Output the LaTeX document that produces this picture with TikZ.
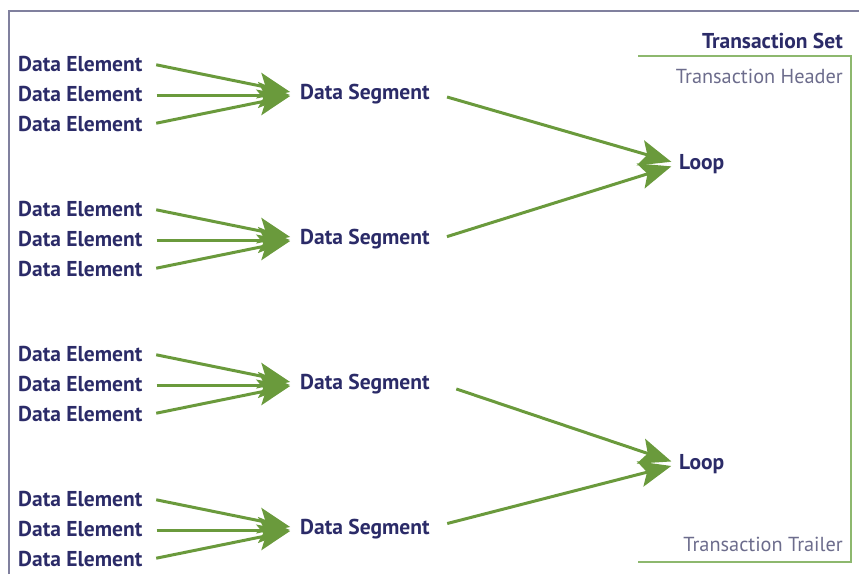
\documentclass[tikz,border=0pt]{standalone}
\usepackage{fontspec}
\setmainfont{PT Sans}
\usetikzlibrary{arrows.meta}
\definecolor{navy}{HTML}{2B2B68}
\definecolor{greyblue}{HTML}{6C6C8C}
\definecolor{arrowgreen}{HTML}{6A9A3C}
\definecolor{bracketgreen}{HTML}{8DB86E}
\definecolor{framegrey}{HTML}{80809E}
\tikzset{
  elem/.style={font=\fontsize{21.5}{21.5}\selectfont\bfseries, text=navy, inner sep=0pt, anchor=west},
  seg/.style={font=\fontsize{21.5}{21.5}\selectfont\bfseries, text=navy, inner sep=0pt, anchor=west},
  thin/.style={font=\fontsize{20.3}{20.3}\selectfont, text=greyblue, inner sep=0pt, anchor=east},
  flow/.style={draw=arrowgreen, line width=3pt, -{Stealth[length=32pt, width=26pt, inset=7pt]}},
}
\begin{document}
\begin{tikzpicture}[x=1pt,y=-1pt]
\useasboundingbox (0,0) rectangle (859,574);
% outer frame
\draw[framegrey, line width=2pt] (9,574) -- (9,11) -- (859,11);
% transaction set bracket
\draw[bracketgreen, line width=2pt] (638,56) -- (851,56) -- (851,562) -- (638,562);
\node[font=\fontsize{21.5}{21.5}\selectfont\bfseries, text=navy, inner sep=0pt, anchor=east] (tset) at (843,41) {Transaction Set};
\node[thin] (thead) at (843,76) {Transaction Header};
\node[thin] (ttrail) at (843,544) {Transaction Trailer};
% loops
\node[seg] (l1) at (679,164) {Loop};
\node[seg] (l2) at (679,464) {Loop};
% groups
\foreach \g/\y in {1/94,2/239,3/384,4/529}{
  \node[seg] (s\g) at (300,\y) {Data Segment};
  \node[elem] (e\g a) at (18,\y-30) {Data Element};
  \node[elem] (e\g b) at (18,\y) {Data Element};
  \node[elem] (e\g c) at (18,\y+30) {Data Element};
  \draw[flow, shorten <=14pt, shorten >=10pt] ([yshift=2pt]e\g a.east) -- (s\g.west);
  \draw[flow, shorten <=14pt, shorten >=10pt] ([yshift=-1pt]e\g b.east) -- ([yshift=-1pt]s\g.west);
  \draw[flow, shorten <=14pt, shorten >=10pt] ([yshift=-2pt]e\g c.east) -- (s\g.west);
}
\draw[flow, shorten <=18pt, shorten >=8pt] ([yshift=2pt]s1.east) -- (l1.west);
\draw[flow, shorten <=18pt, shorten >=8pt] ([yshift=-3pt]s2.east) -- (l1.west);
\draw[flow, shorten <=28pt, shorten >=8pt] ([yshift=4pt]s3.east) -- (l2.west);
\draw[flow, shorten <=18pt, shorten >=8pt] ([yshift=1pt]s4.east) -- (l2.west);
\end{tikzpicture}
\end{document}
